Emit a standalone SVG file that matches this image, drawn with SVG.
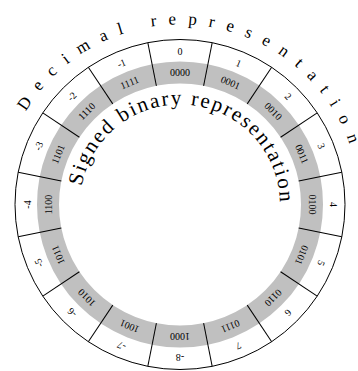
<svg xmlns="http://www.w3.org/2000/svg" width="358" height="371" viewBox="0 0 358 371" font-family="'Liberation Serif', 'Times New Roman', serif">
<style>
.lbl{font-size:10px;text-anchor:middle;dominant-baseline:central;fill:#000}
.dv{stroke:#000;stroke-width:1}
.ttl{fill:#000}
</style>
<defs>
<path id="decPath" d="M0,204.5 A180,180 0 0 1 360,204.5" fill="none"/>
<path id="binPath" d="M81.52,221.86 A100,100 0 1 1 278.48,221.86" fill="none"/>
<line id="dl" x1="180" y1="83.5" x2="180" y2="39.5" class="dv"/>
</defs>
<rect width="358" height="371" fill="#fff"/>
<circle cx="180" cy="204.5" r="132" fill="none" stroke="#c0c0c0" stroke-width="22"/>
<circle cx="180" cy="204.5" r="165" fill="none" stroke="#000" stroke-width="1"/>
<g id="connectors">
<use href="#dl" transform="rotate(11.25 180 204.5)"/>
<use href="#dl" transform="rotate(33.75 180 204.5)"/>
<use href="#dl" transform="rotate(56.25 180 204.5)"/>
<use href="#dl" transform="rotate(78.75 180 204.5)"/>
<use href="#dl" transform="rotate(101.25 180 204.5)"/>
<use href="#dl" transform="rotate(123.75 180 204.5)"/>
<use href="#dl" transform="rotate(146.25 180 204.5)"/>
<use href="#dl" transform="rotate(168.75 180 204.5)"/>
<use href="#dl" transform="rotate(191.25 180 204.5)"/>
<use href="#dl" transform="rotate(213.75 180 204.5)"/>
<use href="#dl" transform="rotate(236.25 180 204.5)"/>
<use href="#dl" transform="rotate(258.75 180 204.5)"/>
<use href="#dl" transform="rotate(281.25 180 204.5)"/>
<use href="#dl" transform="rotate(303.75 180 204.5)"/>
<use href="#dl" transform="rotate(326.25 180 204.5)"/>
<use href="#dl" transform="rotate(348.75 180 204.5)"/>
</g>
<g id="seg0" transform="rotate(0 180 204.5)"><text class="lbl" x="180" y="51.5">0</text><text class="lbl" x="180" y="72.5">0000</text></g>
<g id="seg1" transform="rotate(22.5 180 204.5)"><text class="lbl" x="180" y="51.5">1</text><text class="lbl" x="180" y="72.5">0001</text></g>
<g id="seg2" transform="rotate(45 180 204.5)"><text class="lbl" x="180" y="51.5">2</text><text class="lbl" x="180" y="72.5">0010</text></g>
<g id="seg3" transform="rotate(67.5 180 204.5)"><text class="lbl" x="180" y="51.5">3</text><text class="lbl" x="180" y="72.5">0011</text></g>
<g id="seg4" transform="rotate(90 180 204.5)"><text class="lbl" x="180" y="51.5">4</text><text class="lbl" x="180" y="72.5">0100</text></g>
<g id="seg5" transform="rotate(112.5 180 204.5)"><text class="lbl" x="180" y="51.5">5</text><text class="lbl" x="180" y="72.5">0101</text></g>
<g id="seg6" transform="rotate(135 180 204.5)"><text class="lbl" x="180" y="51.5">6</text><text class="lbl" x="180" y="72.5">0110</text></g>
<g id="seg7" transform="rotate(157.5 180 204.5)"><text class="lbl" x="180" y="51.5">7</text><text class="lbl" x="180" y="72.5">0111</text></g>
<g id="seg8" transform="rotate(180 180 204.5)"><text class="lbl" x="180" y="51.5">-8</text><text class="lbl" x="180" y="72.5">1000</text></g>
<g id="seg9" transform="rotate(202.5 180 204.5)"><text class="lbl" x="180" y="51.5">-7</text><text class="lbl" x="180" y="72.5">1001</text></g>
<g id="seg10" transform="rotate(225 180 204.5)"><text class="lbl" x="180" y="51.5">-6</text><text class="lbl" x="180" y="72.5">1010</text></g>
<g id="seg11" transform="rotate(247.5 180 204.5)"><text class="lbl" x="180" y="51.5">-5</text><text class="lbl" x="180" y="72.5">1011</text></g>
<g id="seg12" transform="rotate(270 180 204.5)"><text class="lbl" x="180" y="51.5">-4</text><text class="lbl" x="180" y="72.5">1100</text></g>
<g id="seg13" transform="rotate(292.5 180 204.5)"><text class="lbl" x="180" y="51.5">-3</text><text class="lbl" x="180" y="72.5">1101</text></g>
<g id="seg14" transform="rotate(315 180 204.5)"><text class="lbl" x="180" y="51.5">-2</text><text class="lbl" x="180" y="72.5">1110</text></g>
<g id="seg15" transform="rotate(337.5 180 204.5)"><text class="lbl" x="180" y="51.5">-1</text><text class="lbl" x="180" y="72.5">1111</text></g>
<g id="decimal-title"><text class="ttl" font-size="17" letter-spacing="11.8"><textPath href="#decPath" startOffset="97.4">Decimal representation</textPath></text></g>
<g id="binary-title"><text class="ttl" font-size="21" letter-spacing="1.9"><textPath href="#binPath" startOffset="35.8">Signed binary representation</textPath></text></g>
</svg>
